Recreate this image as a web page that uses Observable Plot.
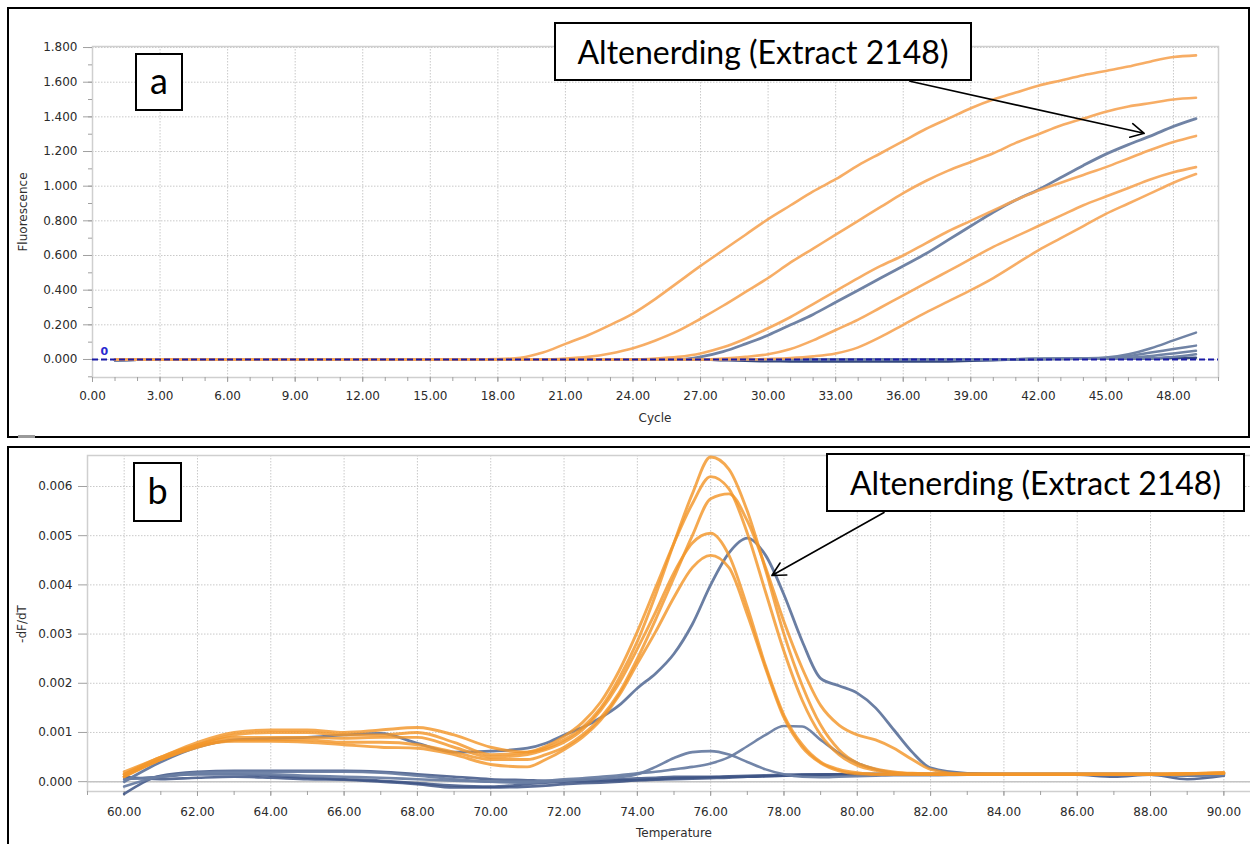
<!DOCTYPE html>
<html><head><meta charset="utf-8">
<script src="https://cdn.jsdelivr.net/npm/d3@7"></script>
<script src="https://cdn.jsdelivr.net/npm/@observablehq/plot@0.6"></script>
<style>
html,body{margin:0;padding:0;background:#fff;}
body{width:1250px;height:844px;overflow:hidden;position:relative;font-family:"DejaVu Sans",sans-serif;}
.panel{position:absolute;border:2px solid #000;box-sizing:border-box;}
.chart{position:absolute;left:0;}
.chart svg{max-width:none !important;display:block;}
.lbl{position:absolute;border:2px solid #000;background:#fff;font-family:Lato,sans-serif;color:#000;display:flex;align-items:center;justify-content:center;box-sizing:border-box;white-space:nowrap;}
.axt{position:absolute;font-family:"DejaVu Sans",sans-serif;font-size:12px;color:#2e2e2e;transform:translate(-50%,-50%);white-space:nowrap;}
</style></head>
<body>
<div class="panel" style="left:7px;top:7px;width:1243px;height:431px;"></div>
<div style="position:absolute;left:18px;top:435px;width:17px;height:3px;background:#9a9a9a;"></div>
<div class="panel" style="left:7px;top:446px;width:1250px;height:420px;"></div>
<div id="chartA" class="chart" style="top:0px;"></div>
<div id="chartB" class="chart" style="top:447px;"></div>
<div class="axt" style="left:655px;top:418px;">Cycle</div>
<div class="axt" style="left:23px;top:212px;transform:translate(-50%,-50%) rotate(-90deg);">Fluorescence</div>
<div class="axt" style="left:674px;top:833px;">Temperature</div>
<div class="axt" style="left:22px;top:624px;transform:translate(-50%,-50%) rotate(-90deg);">-dF/dT</div>
<div class="lbl" style="left:135px;top:53px;width:48px;height:58px;font-size:36px;padding-bottom:4px;">a</div>
<div class="lbl" style="left:554px;top:22px;width:418px;height:59px;font-size:32px;">Altenerding (Extract 2148)</div>
<div class="lbl" style="left:133px;top:462px;width:49px;height:60px;font-size:36px;padding-bottom:4px;">b</div>
<div class="lbl" style="left:826px;top:453px;width:419px;height:59px;font-size:32px;">Altenerding (Extract 2148)</div>
<script>
// ---------- Panel a: amplification curves ----------
const cycles = [1,2,3,4,5,6,7,8,9,10,11,12,13,14,15,16,17,18,19,20,21,22,23,24,25,26,27,28,29,30,31,32,33,34,35,36,37,38,39,40,41,42,43,44,45,46,47,48,49];
const cycleTicks = [0,3,6,9,12,15,18,21,24,27,30,33,36,39,42,45,48];
const fluorTicks = [0,0.2,0.4,0.6,0.8,1.0,1.2,1.4,1.6,1.8];
const threshold = 0;

const ampO1 = [0,0,0,0,0,0,0,0,0,0,0,0,0,0,0,0,0,0.002,0.01,0.04,0.09,0.14,0.2,0.265,0.35,0.445,0.54,0.63,0.72,0.81,0.89,0.97,1.04,1.12,1.19,1.26,1.33,1.39,1.45,1.5,1.54,1.58,1.61,1.64,1.665,1.69,1.72,1.745,1.755];
const ampO2 = [0,0,0,0,0,0,0,0,0,0,0,0,0,0,0,0,0,0,0,0,0.005,0.015,0.035,0.065,0.11,0.165,0.235,0.31,0.39,0.47,0.56,0.64,0.72,0.8,0.88,0.96,1.03,1.09,1.14,1.19,1.25,1.3,1.35,1.39,1.43,1.46,1.48,1.5,1.51];
const ampO3 = [0,0,0,0,0,0,0,0,0,0,0,0,0,0,0,0,0,0,0,0,0,0,0,0,0.005,0.015,0.035,0.07,0.12,0.18,0.245,0.32,0.395,0.47,0.54,0.6,0.67,0.74,0.8,0.86,0.92,0.975,1.02,1.065,1.11,1.16,1.21,1.255,1.29];
const ampO4 = [0,0,0,0,0,0,0,0,0,0,0,0,0,0,0,0,0,0,0,0,0,0,0,0,0,0,0,0.005,0.015,0.03,0.06,0.11,0.17,0.23,0.3,0.37,0.44,0.51,0.58,0.65,0.71,0.77,0.83,0.89,0.94,0.99,1.04,1.08,1.11];
const ampO5 = [0,0,0,0,0,0,0,0,0,0,0,0,0,0,0,0,0,0,0,0,0,0,0,0,0,0,0,0,0,0.003,0.008,0.018,0.035,0.07,0.13,0.2,0.27,0.335,0.4,0.47,0.55,0.63,0.7,0.77,0.84,0.9,0.96,1.02,1.07];
const ampAlt = [0,0,0,0,0,0,0,0,0,0,0,0,0,0,0,0,0,0,0,0,0,0,0,0,0,0,0.015,0.045,0.09,0.14,0.2,0.26,0.33,0.4,0.47,0.54,0.61,0.69,0.77,0.85,0.92,0.98,1.05,1.12,1.185,1.24,1.29,1.345,1.39];
const ampB2 = [-0.004,-0.002,0,0,0,0,0,0,0,0,0,0,0,0,0,0,0,0,0,0,0,0,0,0,0,0,0,0,0,0,0,0,0,0,0,0,0,0,0,0,0.002,0.004,0.005,0.007,0.012,0.03,0.065,0.11,0.155];
const ampB3 = [-0.004,-0.002,0,0,0,0,0,0,0,0,0,0,0,0,0,0,0,0,0,0,0,0,0,0,0,0,0,0,0,0,0,0,0,0,0,0,0,0,0,0,0.002,0.004,0.005,0.006,0.008,0.02,0.04,0.06,0.08];
const ampB4 = [-0.004,-0.002,0,0,0,0,0,0,0,0,0,0,0,0,0,0,0,0,0,0,0,0,0,0,0,0,0,0,0,0,0,0,0,0,0,0,0,0,0,0,0.002,0.003,0.004,0.005,0.006,0.01,0.02,0.035,0.05];
const ampB5 = [-0.004,-0.002,0,0,0,0,0,0,0,0,0,0,0,0,0,0,0,0,0,0,0,0,0,0,0,0,0,0,0,0,0,0,0,0,0,0,0,0,0,0,0.001,0.002,0.003,0.004,0.004,0.005,0.008,0.015,0.03];
const ampB6 = [-0.004,-0.002,0,0,0,0,0,0,0,0,0,0,0,0,0,0,0,0,0,0,0,0,0,0,0,0,0,-0.004,-0.008,-0.01,-0.011,-0.012,-0.012,-0.012,-0.012,-0.012,-0.012,-0.011,-0.008,-0.004,0,0.002,0.003,0.004,0.004,0.005,0.006,0.008,0.01];

const ampSeries = [
  {name:"B6", kind:"flat", values:ampB6},
  {name:"B5", kind:"low", values:ampB5},
  {name:"B4", kind:"low", values:ampB4},
  {name:"B3", kind:"low", values:ampB3},
  {name:"B2", kind:"low", values:ampB2},
  {name:"Alt", kind:"alt", values:ampAlt},
  {name:"O5", kind:"orange", values:ampO5},
  {name:"O4", kind:"orange", values:ampO4},
  {name:"O3", kind:"orange", values:ampO3},
  {name:"O2", kind:"orange", values:ampO2},
  {name:"O1", kind:"orange", values:ampO1}
];
const ampRows = ampSeries.flatMap(s => s.values.map((v, i) => ({cycle: cycles[i], value: v, name: s.name, kind: s.kind})));

// ---------- Panel b: melt curves (values in 1e-3 units of -dF/dT) ----------
const temps = [60,61,62,63,64,65,66,67,68,69,70,71,71.5,72,72.5,73,73.5,74,74.5,75,75.5,76,76.5,77,77.5,78,78.5,79,79.5,80,80.5,81,81.5,82,83,84,85,86,87,88,89,90];
const tempTicks = [60,62,64,66,68,70,72,74,76,78,80,82,84,86,88,90];
const dfdtTicks = [0,1,2,3,4,5,6];

const meltP1 = [0.2,0.5,0.8,1.0,1.05,1.05,1.0,1.05,1.1,0.95,0.7,0.6,0.68,0.85,1.1,1.5,2.1,2.85,3.8,4.85,5.85,6.6,6.35,5.5,4.3,3.0,1.95,1.15,0.65,0.38,0.26,0.2,0.17,0.16,0.15,0.15,0.15,0.15,0.15,0.15,0.16,0.18];
const meltP2 = [0.15,0.45,0.75,0.95,1.0,1.0,0.95,0.95,1.0,0.8,0.55,0.6,0.72,0.92,1.2,1.62,2.25,3.05,3.95,4.85,5.65,6.2,5.95,5.05,3.85,2.65,1.65,0.95,0.55,0.33,0.23,0.18,0.16,0.15,0.15,0.15,0.15,0.15,0.15,0.15,0.16,0.17];
const meltP3 = [0.1,0.45,0.7,0.85,0.85,0.85,0.8,0.8,0.75,0.6,0.45,0.45,0.55,0.7,0.95,1.3,1.8,2.5,3.3,4.15,5.0,5.75,5.85,5.3,4.35,3.25,2.3,1.55,1.15,0.95,0.85,0.68,0.45,0.25,0.15,0.15,0.15,0.15,0.15,0.15,0.16,0.17];
const meltP4 = [0.15,0.5,0.75,0.9,0.9,0.9,0.88,0.9,0.9,0.7,0.5,0.55,0.65,0.8,1.05,1.45,2.0,2.7,3.45,4.25,4.85,5.05,4.6,3.55,2.35,1.35,0.75,0.4,0.25,0.18,0.15,0.15,0.15,0.15,0.15,0.15,0.15,0.15,0.15,0.15,0.16,0.17];
const meltP5 = [0.1,0.45,0.72,0.82,0.82,0.8,0.75,0.7,0.68,0.55,0.35,0.3,0.45,0.65,0.9,1.25,1.75,2.4,3.05,3.75,4.35,4.6,4.35,3.4,2.3,1.3,0.7,0.38,0.22,0.16,0.15,0.15,0.15,0.15,0.15,0.15,0.15,0.15,0.15,0.15,0.16,0.18];
const meltAlt = [0.0,0.4,0.7,0.85,0.88,0.9,0.95,0.98,0.78,0.6,0.62,0.68,0.78,0.95,1.1,1.3,1.55,1.9,2.2,2.6,3.2,4.0,4.65,4.95,4.6,3.8,2.85,2.1,1.95,1.8,1.5,1.05,0.6,0.28,0.17,0.15,0.15,0.15,0.15,0.15,0.14,0.15];
const meltB2 = [-0.1,0.1,0.15,0.15,0.15,0.12,0.1,0.08,0.05,0.02,0.0,0.0,0.02,0.05,0.07,0.1,0.13,0.17,0.2,0.25,0.3,0.37,0.5,0.72,0.95,1.13,1.12,0.85,0.58,0.38,0.25,0.18,0.15,0.14,0.14,0.14,0.14,0.14,0.14,0.14,0.13,0.14];
const meltB3 = [0.05,0.1,0.18,0.2,0.2,0.2,0.2,0.18,0.12,0.05,0.0,-0.02,0.0,0.02,0.04,0.06,0.09,0.15,0.3,0.48,0.6,0.62,0.55,0.4,0.25,0.15,0.1,0.09,0.1,0.11,0.12,0.13,0.13,0.13,0.14,0.14,0.14,0.14,0.14,0.14,0.12,0.13];
const meltB4 = [-0.25,0.12,0.2,0.22,0.22,0.22,0.22,0.2,0.15,0.1,0.05,0.03,0.02,0.02,0.03,0.04,0.05,0.07,0.08,0.1,0.1,0.1,0.11,0.12,0.13,0.14,0.15,0.15,0.15,0.16,0.16,0.16,0.16,0.16,0.16,0.16,0.16,0.16,0.16,0.16,0.15,0.16];
const meltB5 = [0.05,0.1,0.15,0.15,0.12,0.08,0.05,0.02,-0.03,-0.08,-0.1,-0.05,-0.02,0.0,0.01,0.02,0.03,0.03,0.04,0.05,0.06,0.07,0.08,0.1,0.11,0.12,0.13,0.14,0.15,0.15,0.15,0.15,0.15,0.15,0.15,0.15,0.15,0.14,0.1,0.14,0.05,0.12];
const meltB6 = [0.1,0.05,0.08,0.1,0.08,0.05,0.04,0.0,-0.05,-0.12,-0.12,-0.1,-0.08,-0.05,-0.03,-0.02,0.0,0.03,0.05,0.07,0.08,0.09,0.1,0.1,0.11,0.12,0.13,0.14,0.14,0.14,0.14,0.15,0.15,0.15,0.15,0.15,0.15,0.15,0.15,0.15,0.14,0.15];

const meltSeries = [
  {name:"B6", kind:"flat", values:meltB6},
  {name:"B5", kind:"flat", values:meltB5},
  {name:"B4", kind:"flat", values:meltB4},
  {name:"B3", kind:"low", values:meltB3},
  {name:"B2", kind:"low", values:meltB2},
  {name:"Alt", kind:"alt", values:meltAlt},
  {name:"P5", kind:"orange", values:meltP5},
  {name:"P4", kind:"orange", values:meltP4},
  {name:"P3", kind:"orange", values:meltP3},
  {name:"P2", kind:"orange", values:meltP2},
  {name:"P1", kind:"orange", values:meltP1}
];
const meltRows = meltSeries.flatMap(s => s.values.map((v, i) => ({temp: temps[i], value: v, name: s.name, kind: s.kind})));

// annotation arrows (data coordinates)
const arrowA = [{x1: 36.3, y1: 1.605, x2: 46.7, y2: 1.305}];
const arrowB = [{x1: 80.73, y1: 5.47, x2: 77.67, y2: 4.19}];

const gridStyle = {stroke: "#c9c9c9", strokeOpacity: 1, strokeDasharray: "1.5,1.5", strokeWidth: 1};
const baseStyle = {background: "transparent", fontFamily: "'DejaVu Sans', sans-serif", fontSize: "12px", color: "#2b2b2b", maxWidth: "none", overflow: "visible"};

const plotA = Plot.plot({
  width: 1250, height: 437,
  marginLeft: 92, marginRight: 32, marginTop: 46, marginBottom: 60,
  x: {domain: [0, 50], label: null},
  y: {domain: [-0.104, 1.806], label: null},
  style: baseStyle,
  marks: [
    Plot.gridX(cycleTicks, gridStyle),
    Plot.gridY(fluorTicks, gridStyle),
    Plot.frame({stroke: "#cfcfcf", strokeWidth: 1.5}),
    Plot.axisX(d3.range(0, 51, 1), {tickSize: 4, tickFormat: () => "", stroke: "#a0a0a0", label: null}),
    Plot.axisX(cycleTicks, {tickSize: 5, tickPadding: 9, tickFormat: d => d.toFixed(2), stroke: "#a0a0a0", fill: "#2b2b2b", label: null}),
    Plot.axisY(d3.range(-0.1, 1.85, 0.1), {tickSize: 4, tickFormat: () => "", stroke: "#a0a0a0", label: null}),
    Plot.axisY(fluorTicks, {tickSize: 9, tickPadding: 6, tickFormat: d => d.toFixed(3), stroke: "#a0a0a0", fill: "#2b2b2b", label: null}),
    Plot.line(ampRows.filter(d => d.kind === "flat"), {x: "cycle", y: "value", z: "name", stroke: "#34497e", strokeWidth: 2.5, curve: "monotone-x"}),
    Plot.line(ampRows.filter(d => d.kind === "low"), {x: "cycle", y: "value", z: "name", stroke: "#7083a5", strokeWidth: 2.5, curve: "monotone-x"}),
    Plot.line(ampRows.filter(d => d.kind === "alt"), {x: "cycle", y: "value", z: "name", stroke: "#7083a5", strokeWidth: 2.8, curve: "monotone-x"}),
    Plot.line(ampRows.filter(d => d.kind === "orange"), {x: "cycle", y: "value", z: "name", stroke: "#f6a454", strokeOpacity: 0.9, strokeWidth: 2.6, curve: "monotone-x"}),
    Plot.ruleY([threshold], {stroke: "#1a1aa6", strokeWidth: 2, strokeDasharray: "6,3"}),
    Plot.text([threshold], {y: d => d, frameAnchor: "left", text: d => String(d), dx: 8, dy: -8, fill: "#2a2ad0", fontSize: 11, fontWeight: "bold"}),
    Plot.arrow(arrowA, {x1: "x1", y1: "y1", x2: "x2", y2: "y2", stroke: "#000", strokeWidth: 1.6, headLength: 14, headAngle: 55})
  ]
});
document.getElementById("chartA").appendChild(plotA);

const plotB = Plot.plot({
  width: 1260, height: 397,
  marginLeft: 87, marginRight: 0, marginTop: 8, marginBottom: 53,
  x: {domain: [59, 91], label: null},
  y: {domain: [-0.2, 6.63], label: null},
  style: baseStyle,
  marks: [
    Plot.gridX(tempTicks, gridStyle),
    Plot.gridY(dfdtTicks, gridStyle),
    Plot.frame({stroke: "#cfcfcf", strokeWidth: 1.5}),
    Plot.ruleY([0], {stroke: "#c4c4c4", strokeWidth: 1.5}),
    Plot.axisX(d3.range(59, 92, 1), {tickSize: 4, tickFormat: () => "", stroke: "#a0a0a0", label: null}),
    Plot.axisX(tempTicks, {tickSize: 5, tickPadding: 11, tickFormat: d => d.toFixed(2), stroke: "#a0a0a0", fill: "#2b2b2b", label: null}),
    Plot.axisY(dfdtTicks, {tickSize: 9, tickPadding: 6, tickFormat: d => (d / 1000).toFixed(3), stroke: "#a0a0a0", fill: "#2b2b2b", label: null}),
    Plot.line(meltRows.filter(d => d.kind === "flat"), {x: "temp", y: "value", z: "name", stroke: "#3d5385", strokeOpacity: 0.85, strokeWidth: 2.6, curve: "monotone-x"}),
    Plot.line(meltRows.filter(d => d.kind === "low"), {x: "temp", y: "value", z: "name", stroke: "#6a7ea3", strokeOpacity: 0.95, strokeWidth: 2.6, curve: "monotone-x"}),
    Plot.line(meltRows.filter(d => d.kind === "alt"), {x: "temp", y: "value", z: "name", stroke: "#6a7ea3", strokeWidth: 2.8, curve: "monotone-x"}),
    Plot.line(meltRows.filter(d => d.kind === "orange"), {x: "temp", y: "value", z: "name", stroke: "#f3962a", strokeOpacity: 0.82, strokeWidth: 2.9, curve: "monotone-x"}),
    Plot.arrow(arrowB, {x1: "x1", y1: "y1", x2: "x2", y2: "y2", stroke: "#000", strokeWidth: 1.6, headLength: 14, headAngle: 55})
  ]
});
document.getElementById("chartB").appendChild(plotB);
</script>
</body></html>
